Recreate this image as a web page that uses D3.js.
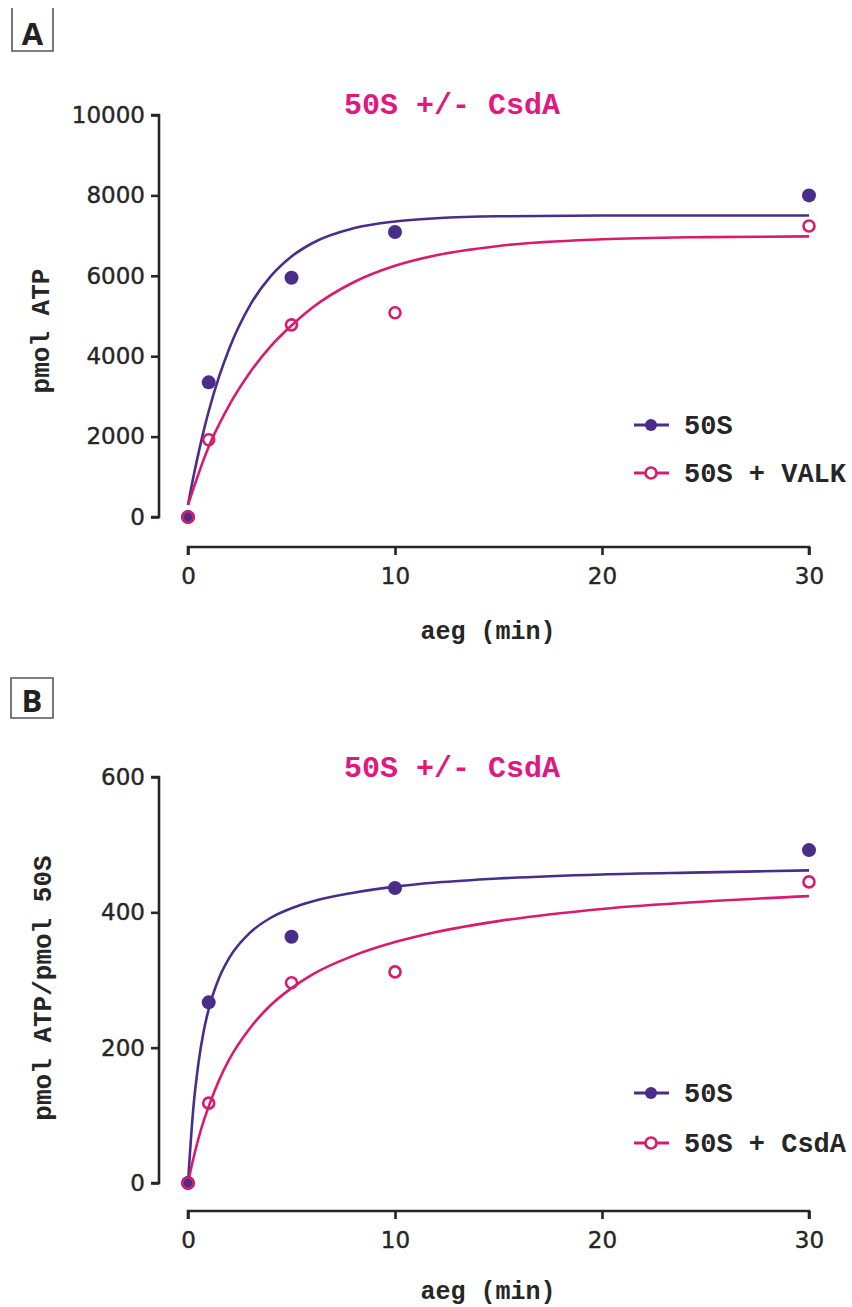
<!DOCTYPE html>
<html><head><meta charset="utf-8">
<script src="https://cdn.jsdelivr.net/npm/d3@7"></script>
<style>body{margin:0;background:#fff}svg{display:block}</style>
</head><body>
<script>
// ---- data ----
const timePoints = [0, 1, 5, 10, 30];
const xTicks = [0, 10, 20, 30];
// Panel A (pmol ATP)
const aTicks = [0, 2000, 4000, 6000, 8000, 10000];
const a50S = [0, 3350, 5950, 7090, 8000];
const aVALK = [0, 1920, 4780, 5080, 7240];
// fitted curves
const fitT = [0, 0.25, 0.5, 0.75, 1, 1.5, 2, 3, 4, 5, 6, 8, 10, 12, 15, 20, 25, 30];
const aFit50S = [300, 970, 1570, 2130, 2630, 3490, 4200, 5270, 5990, 6480, 6810, 7180, 7350, 7430, 7480, 7500, 7500, 7500];
const aFitVALK = [300, 690, 1060, 1420, 1750, 2300, 2790, 3600, 4250, 4763, 5203, 5839, 6249, 6512, 6743, 6908, 6963, 6981];
// Panel B (pmol ATP/pmol 50S)
const bTicks = [0, 200, 400, 600];
const b50S = [0, 267, 364, 436, 492];
const bCsdA = [0, 118, 296, 312, 445];
const bFit50S = [0, 108, 176, 223, 257, 303, 333, 370, 392, 406, 416, 429, 438, 444, 450, 456, 459, 462];
const bFitCsdA = [0, 35, 65, 91, 113, 152, 183, 229, 263, 288, 308, 336, 356, 371, 387, 405, 416, 424];

const titleText = "50S +/- CsdA";
const xLabel = "aeg (min)";

const PURPLE = "#4a2d8a", PINK = "#d81b6e", TITLE = "#e0187f", INK = "#262626";
const MONO = "'Liberation Mono','Courier New',monospace";
const SANS = "'DejaVu Sans',Verdana,sans-serif";

const svg = d3.select("body").append("svg").attr("width", 852).attr("height", 1307);

function panel(cfg) {
  const g = svg.append("g");
  const x = d3.scaleLinear().domain([0, 30]).range([188, 809]);
  const y = d3.scaleLinear().domain(cfg.yDomain).range(cfg.yRange);

  // panel letter box
  const bx = cfg.box;
  g.append("path").attr("d", cfg.boxTop
      ? `M${bx[0]},${bx[1]}H${bx[2]}V${bx[3]}H${bx[0]}Z`
      : `M${bx[0]},${bx[1]}V${bx[3]}H${bx[2]}V${bx[1]}`)
    .attr("fill", "none").attr("stroke", "#555").attr("stroke-width", 1.6);
  g.append("text").attr("x", (bx[0] + bx[2]) / 2).attr("y", bx[3] - 6)
    .attr("text-anchor", "middle").attr("font-family", "'Open Sans',sans-serif")
    .attr("font-weight", 700).attr("font-size", 31).attr("fill", "#222").text(cfg.letter);

  // title
  g.append("text").attr("x", 452).attr("y", cfg.titleY).attr("dy", "0.35em")
    .attr("text-anchor", "middle").attr("font-family", MONO).attr("font-weight", 700)
    .attr("font-size", 30).attr("fill", TITLE).text(titleText);

  // y axis
  const ya = g.append("g").attr("transform", "translate(159,0)")
    .call(d3.axisLeft(y).tickValues(cfg.yTicks).tickFormat(d3.format("d")).tickSize(8).tickPadding(6));
  ya.select(".domain").attr("d", `M-8,${y(cfg.yDomain[1])}H0V${y(cfg.yDomain[0])}H-8`)
    .attr("stroke", INK).attr("stroke-width", 2.6);
  ya.selectAll(".tick line").attr("stroke", INK).attr("stroke-width", 2.6);
  ya.selectAll(".tick text").attr("font-family", SANS).attr("font-size", 23).attr("fill", INK)
    .attr("stroke", INK).attr("stroke-width", 0.4);

  // x axis
  const xa = g.append("g").attr("transform", `translate(0,${cfg.xAxisY})`)
    .call(d3.axisBottom(x).tickValues(xTicks).tickSize(8).tickPadding(13));
  xa.select(".domain").attr("d", `M${x(0)},8V0H${x(30)}V8`).attr("stroke", INK).attr("stroke-width", 2.6);
  xa.selectAll(".tick line").attr("stroke", INK).attr("stroke-width", 2.6);
  xa.selectAll(".tick text").attr("font-family", SANS).attr("font-size", 23).attr("fill", INK)
    .attr("stroke", INK).attr("stroke-width", 0.4);

  // axis labels
  g.append("text").attr("x", 488).attr("y", cfg.xLabelY).attr("dy", "0.35em")
    .attr("text-anchor", "middle").attr("font-family", MONO).attr("font-weight", 700)
    .attr("font-size", 25).attr("fill", INK).text(xLabel);
  g.append("text").attr("transform", `translate(${cfg.yLabelX},${cfg.yLabelY}) rotate(-90)`)
    .attr("dy", "0.35em").attr("text-anchor", "middle").attr("font-family", MONO)
    .attr("font-weight", 700).attr("font-size", 26).attr("fill", INK).text(cfg.yLabel);

  // fitted curves
  const line = d3.line().x(d => x(d[0])).y(d => y(d[1])).curve(d3.curveMonotoneX);
  g.append("path").attr("d", line(fitT.map((t, i) => [t, cfg.fitA[i]])))
    .attr("fill", "none").attr("stroke", PURPLE).attr("stroke-width", 2.6);
  g.append("path").attr("d", line(fitT.map((t, i) => [t, cfg.fitB[i]])))
    .attr("fill", "none").attr("stroke", PINK).attr("stroke-width", 2.6);

  // points
  g.selectAll(null).data(timePoints.map((t, i) => [t, cfg.dataA[i]])).enter().append("circle")
    .attr("cx", d => x(d[0])).attr("cy", d => y(d[1])).attr("r", 7).attr("fill", PURPLE);
  g.selectAll(null).data(timePoints.map((t, i) => [t, cfg.dataB[i]])).enter().append("circle")
    .attr("cx", d => x(d[0])).attr("cy", d => y(d[1])).attr("r", 5.5)
    .attr("fill", "none").attr("stroke", PINK).attr("stroke-width", 2.6);

  // legend
  const items = [{name: "50S", c: PURPLE, filled: true}, {name: cfg.legend2, c: PINK, filled: false}];
  items.forEach((it, i) => {
    const ly = cfg.legendY[i];
    g.append("line").attr("x1", 634).attr("x2", 669).attr("y1", ly).attr("y2", ly)
      .attr("stroke", it.c).attr("stroke-width", 3);
    if (it.filled) g.append("circle").attr("cx", 651).attr("cy", ly).attr("r", 6).attr("fill", it.c);
    else g.append("circle").attr("cx", 651).attr("cy", ly).attr("r", 5.5).attr("fill", "#fff")
      .attr("stroke", it.c).attr("stroke-width", 2.6);
    g.append("text").attr("x", 684).attr("y", ly).attr("dy", "0.35em")
      .attr("font-family", MONO).attr("font-weight", 700).attr("font-size", 27)
      .attr("fill", INK).text(it.name);
  });
}

panel({
  letter: "A", box: [12, 8, 53, 51], boxTop: false,
  yDomain: [0, 10000], yRange: [517, 115], yTicks: aTicks,
  xAxisY: 547, titleY: 103, xLabelY: 630, yLabelX: 40, yLabelY: 331, yLabel: "pmol ATP",
  dataA: a50S, dataB: aVALK, fitA: aFit50S, fitB: aFitVALK,
  legend2: "50S + VALK", legendY: [425, 473]
});
panel({
  letter: "B", box: [11, 678, 53, 718], boxTop: true,
  yDomain: [0, 600], yRange: [1183, 777], yTicks: bTicks,
  xAxisY: 1211, titleY: 766, xLabelY: 1290, yLabelX: 42, yLabelY: 988, yLabel: "pmol ATP/pmol 50S",
  dataA: b50S, dataB: bCsdA, fitA: bFit50S, fitB: bFitCsdA,
  legend2: "50S + CsdA", legendY: [1093, 1143]
});
</script>
</body></html>
